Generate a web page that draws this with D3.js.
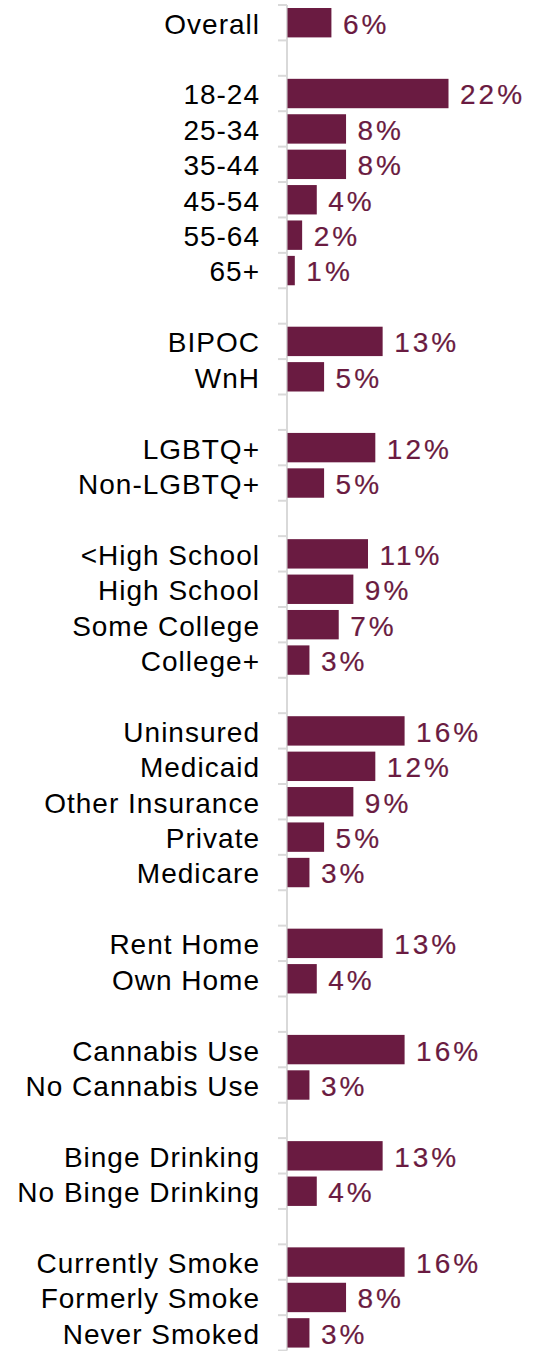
<!DOCTYPE html>
<html>
<head>
<meta charset="utf-8">
<script src="https://cdn.jsdelivr.net/npm/d3@7"></script>
<style>
  html, body { margin: 0; padding: 0; background: #fff; }
  svg { display: block; }
  .cat { font-family: "Liberation Sans", Arial, sans-serif; font-size: 28px; fill: #000; letter-spacing: 1px; }
  .val { font-family: "Liberation Sans", Arial, sans-serif; font-size: 28px; fill: #6a1b41; stroke: #6a1b41; stroke-width: 0.2px; letter-spacing: 3px; }
</style>
</head>
<body>
<svg id="chart" width="544" height="1351"></svg>
<script>
// rows in display order; "" marks an empty spacer row between groups
var categories = ["Overall", "",
  "18-24", "25-34", "35-44", "45-54", "55-64", "65+", "",
  "BIPOC", "WnH", "",
  "LGBTQ+", "Non-LGBTQ+", "",
  "<High School", "High School", "Some College", "College+", "",
  "Uninsured", "Medicaid", "Other Insurance", "Private", "Medicare", "",
  "Rent Home", "Own Home", "",
  "Cannabis Use", "No Cannabis Use", "",
  "Binge Drinking", "No Binge Drinking", "",
  "Currently Smoke", "Formerly Smoke", "Never Smoked"];

var values = [6, null,
  22, 8, 8, 4, 2, 1, null,
  13, 5, null,
  12, 5, null,
  11, 9, 7, 3, null,
  16, 12, 9, 5, 3, null,
  13, 4, null,
  16, 3, null,
  13, 4, null,
  16, 8, 3];

var barColor = "#6a1b41";
var axisX = 287;

var svg = d3.select("#chart");

var rows = categories.map(function(c, i){ return {i: i, label: c, value: values[i]}; });

var y = d3.scaleBand()
  .domain(d3.range(rows.length))
  .range([5, 5 + 35.41 * rows.length])
  .paddingInner(0.17)
  .paddingOuter(0.085);

var x = d3.scaleLinear().domain([0, 22]).range([axisX, 448]);

// category labels
svg.append("g").selectAll("text")
  .data(rows.filter(function(d){ return d.label !== ""; }))
  .enter().append("text")
  .attr("class", "cat")
  .attr("x", 260)
  .attr("y", function(d){ return y(d.i) + y.bandwidth() / 2; })
  .attr("dy", "0.39em")
  .attr("text-anchor", "end")
  .text(function(d){ return d.label; });

// axis line + ticks at band boundaries
var g = svg.append("g");
var step = y.step();
var y0 = y.range()[0];
g.selectAll("line.tick")
  .data(d3.range(rows.length + 1))
  .enter().append("line")
  .attr("class", "tick")
  .attr("x1", axisX - 9).attr("x2", axisX)
  .attr("y1", function(k){ return y0 + k * step; })
  .attr("y2", function(k){ return y0 + k * step; })
  .attr("stroke", "#d9d9d9").attr("stroke-width", 2);
g.append("line")
  .attr("x1", axisX).attr("x2", axisX)
  .attr("y1", y0).attr("y2", y0 + rows.length * step)
  .attr("stroke", "#d9d9d9").attr("stroke-width", 2);

var data = rows.filter(function(d){ return d.value != null; });

svg.append("g").selectAll("rect")
  .data(data)
  .enter().append("rect")
  .attr("x", x(0) + 0.5)
  .attr("y", function(d){ return y(d.i); })
  .attr("width", function(d){ return x(d.value) - x(0); })
  .attr("height", y.bandwidth())
  .attr("fill", barColor);

svg.append("g").selectAll("text")
  .data(data)
  .enter().append("text")
  .attr("class", "val")
  .attr("x", function(d){ return x(d.value) + 12; })
  .attr("y", function(d){ return y(d.i) + y.bandwidth() / 2; })
  .attr("dy", "0.39em")
  .text(function(d){ return d.value + "%"; });
</script>
</body>
</html>
